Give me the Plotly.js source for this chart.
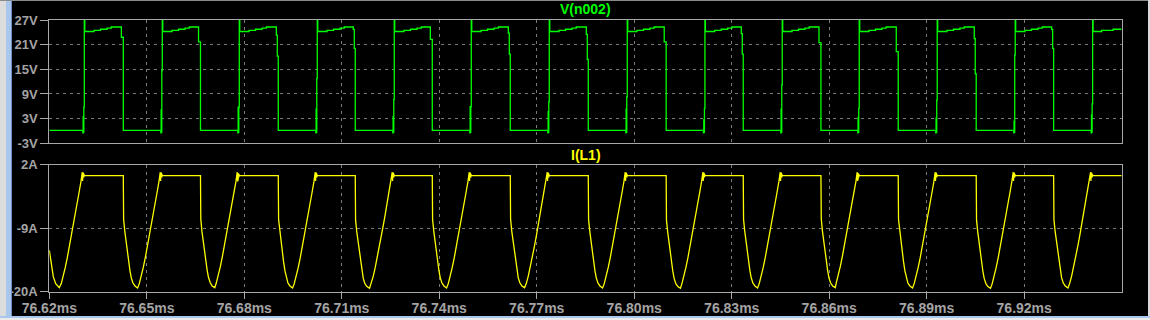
<!DOCTYPE html>
<html>
<head>
<meta charset="utf-8">
<script src="https://cdn.plot.ly/plotly-3.0.1.min.js"></script>
<style>
  html, body { margin: 0; padding: 0; background: #000; }
  #wrap { position: relative; width: 1150px; height: 320px; overflow: hidden; background: #000; }
  #chart { position: absolute; left: 0; top: 0; width: 1150px; height: 320px; }
  .deco { position: absolute; }
</style>
</head>
<body>
<div id="wrap">
  <div id="chart"></div>
  <div class="deco" style="left:0;top:0;width:6px;height:320px;background:#dcdcdc;"></div>
  <div class="deco" style="left:6px;top:0;width:5px;height:320px;background:#a9c6ec;"></div>
  <div class="deco" style="left:11px;top:0;width:1px;height:320px;background:#6d8fbf;"></div>
  <div class="deco" style="left:0;top:0;width:1150px;height:1px;background:#8a8a8a;"></div>
  <div class="deco" style="left:0;top:316px;width:1150px;height:2px;background:#a9c6ec;"></div>
  <div class="deco" style="left:0;top:318px;width:1150px;height:2px;background:#ececec;"></div>
  <div class="deco" style="left:1148px;top:0;width:2px;height:316px;background:#d8d8d8;"></div>
</div>
<script>
// ---- Data (time in microseconds after 76.62 ms) ----
const T0_MS = 76.62;

// Tick labels
const xTickVals = [76.62, 76.65, 76.68, 76.71, 76.74, 76.77, 76.80, 76.83, 76.86, 76.89, 76.92];
const xTickText = ["76.62ms","76.65ms","76.68ms","76.71ms","76.74ms","76.77ms","76.80ms","76.83ms","76.86ms","76.89ms","76.92ms"];
const vTickVals = [-3, 3, 9, 15, 21, 27];
const vTickText = ["-3V","3V","9V","15V","21V","27V"];
const iTickVals = [-20, -9, 2];
const iTickText = ["-20A","-9A","2A"];

// V(n002) in volts, step-held samples
const vTimeUs = [
  0.00,
  10.32, 10.42, 10.52, 10.62, 10.77, 10.92, 13.77, 15.77, 17.77, 19.07, 22.17, 22.47, 22.77,
  34.32, 34.42, 34.52, 34.62, 34.77, 34.92, 37.77, 39.77, 41.77, 43.07, 45.92, 46.22, 46.52,
  58.01, 58.11, 58.21, 58.31, 58.46, 58.61, 61.46, 63.46, 65.46, 66.76, 69.86, 70.16, 70.46,
  82.01, 82.11, 82.21, 82.31, 82.46, 82.61, 85.46, 87.46, 89.46, 90.76, 93.55, 93.85, 94.15,
  105.70, 105.80, 105.90, 106.00, 106.15, 106.30, 109.15, 111.15, 113.15, 114.45, 117.25, 117.55, 117.85,
  129.40, 129.50, 129.60, 129.70, 129.85, 130.00, 132.85, 134.85, 136.85, 138.15, 141.25, 141.55, 141.85,
  153.40, 153.50, 153.60, 153.70, 153.85, 154.00, 156.85, 158.85, 160.85, 162.15, 165.25, 165.55, 165.85,
  177.40, 177.50, 177.60, 177.70, 177.85, 178.00, 180.85, 182.85, 184.85, 186.15, 189.22, 189.52, 189.82,
  201.30, 201.40, 201.50, 201.60, 201.75, 201.90, 204.75, 206.75, 208.75, 210.05, 212.94, 213.24, 213.54,
  225.09, 225.19, 225.29, 225.39, 225.54, 225.69, 228.54, 230.54, 232.54, 233.84, 236.85, 237.15, 237.45,
  248.78, 248.88, 248.98, 249.08, 249.23, 249.38, 252.23, 254.23, 256.23, 257.53, 260.63, 260.93, 261.23,
  272.78, 272.88, 272.98, 273.08, 273.23, 273.38, 276.23, 278.23, 280.23, 281.53, 284.63, 284.93, 285.23,
  296.78, 296.88, 296.98, 297.08, 297.23, 297.38, 300.23, 302.23, 304.23, 305.53, 308.45, 308.75, 309.05,
  320.60, 320.70, 320.80, 320.90, 321.05, 321.20, 323.85, 327.35, 330.00
];
const vVolts = [
  0.16,
  -0.45, 3.5, -0.3, 5.8, 27, 24.2, 24.5, 24.75, 25.0, 25.3, 22.8, 22.8, 0.16,
  -0.45, 5.1, -0.3, 14.7, 27, 24.2, 24.5, 24.75, 25.0, 25.3, 21.7, 21.7, 0.16,
  -0.45, 5.8, -0.3, 5.8, 27, 24.2, 24.5, 24.75, 25.0, 25.3, 23.3, 18.2, 0.16,
  -0.45, 5.3, -0.3, 12.8, 27, 24.2, 24.5, 24.75, 25.0, 25.3, 24.7, 20.1, 0.16,
  -0.45, 3.5, -0.3, 7.7, 27, 24.2, 24.5, 24.75, 25.0, 25.3, 22.3, 22.3, 0.16,
  -0.45, 5.9, -0.3, 5.9, 27, 24.2, 24.5, 24.75, 25.0, 25.3, 23.8, 18.7, 0.16,
  -0.45, 4.7, -0.3, 7.1, 27, 24.2, 24.5, 24.75, 25.0, 25.3, 23.5, 17.4, 0.16,
  -0.45, 5.3, -0.3, 8.3, 27, 24.2, 24.5, 24.75, 25.0, 25.3, 21.7, 21.7, 0.16,
  -0.45, 2.7, -0.3, 5.5, 27, 24.2, 24.5, 24.75, 25.0, 25.3, 23.7, 18.7, 0.16,
  -0.45, 5.3, -0.3, 11.2, 27, 24.2, 24.5, 24.75, 25.0, 25.3, 21.5, 21.5, 0.16,
  -0.45, 3.3, -0.3, 5.5, 27, 24.2, 24.5, 24.75, 25.0, 25.3, 19.3, 19.3, 0.16,
  -0.45, 3.1, -0.3, 7.5, 27, 24.2, 24.5, 24.75, 25.0, 25.3, 22.5, 13.9, 0.16,
  -0.45, 2.3, -0.3, 18.5, 27, 24.2, 24.5, 24.75, 25.0, 25.3, 24.7, 20.1, 0.16,
  -0.45, 3.9, -0.3, 6.6, 27, 24.2, 24.5, 24.75, 24.75
];

// I(L1) in amperes
const iTimeUs = [
  /* start  */ 0.00, 0.74, 1.23, 1.97, 2.46, 3.08,
  /* up  1  */ 3.69, 4.31, 4.92, 5.54, 6.15, 6.77, 7.39, 8.00, 8.62, 9.23, 9.75, 10.15, 10.25, 10.34, 10.43, 10.52, 10.62, 10.71, 10.86,
  /* dn  1  */ 22.77, 22.87, 23.23, 23.60, 24.00, 24.40, 24.83, 25.23, 25.75, 26.37, 27.17,
  /* up  2  */ 27.69, 28.31, 28.92, 29.54, 30.15, 30.77, 31.39, 32.00, 32.62, 33.23, 33.75, 34.15, 34.25, 34.34, 34.43, 34.52, 34.62, 34.71, 34.86,
  /* dn  2  */ 46.52, 46.62, 46.98, 47.35, 47.75, 48.15, 48.58, 48.98, 49.50, 50.12, 50.92,
  /* up  3  */ 51.38, 52.00, 52.61, 53.23, 53.84, 54.46, 55.08, 55.69, 56.31, 56.92, 57.44, 57.84, 57.94, 58.03, 58.12, 58.21, 58.31, 58.40, 58.55,
  /* dn  3  */ 70.46, 70.56, 70.92, 71.29, 71.69, 72.09, 72.52, 72.92, 73.44, 74.06, 74.86,
  /* up  4  */ 75.38, 76.00, 76.61, 77.23, 77.84, 78.46, 79.08, 79.69, 80.31, 80.92, 81.44, 81.84, 81.94, 82.03, 82.12, 82.21, 82.31, 82.40, 82.55,
  /* dn  4  */ 94.15, 94.25, 94.61, 94.98, 95.38, 95.78, 96.21, 96.61, 97.13, 97.75, 98.55,
  /* up  5  */ 99.07, 99.69, 100.30, 100.92, 101.53, 102.15, 102.77, 103.38, 104.00, 104.61, 105.13, 105.53, 105.63, 105.72, 105.81, 105.90, 106.00, 106.09, 106.24,
  /* dn  5  */ 117.85, 117.95, 118.31, 118.68, 119.08, 119.48, 119.91, 120.31, 120.83, 121.45, 122.25,
  /* up  6  */ 122.77, 123.39, 124.00, 124.62, 125.23, 125.85, 126.47, 127.08, 127.70, 128.31, 128.83, 129.23, 129.33, 129.42, 129.51, 129.60, 129.70, 129.79, 129.94,
  /* dn  6  */ 141.85, 141.95, 142.31, 142.68, 143.08, 143.48, 143.91, 144.31, 144.83, 145.45, 146.25,
  /* up  7  */ 146.77, 147.39, 148.00, 148.62, 149.23, 149.85, 150.47, 151.08, 151.70, 152.31, 152.83, 153.23, 153.33, 153.42, 153.51, 153.60, 153.70, 153.79, 153.94,
  /* dn  7  */ 165.85, 165.95, 166.31, 166.68, 167.08, 167.48, 167.91, 168.31, 168.83, 169.45, 170.25,
  /* up  8  */ 170.77, 171.39, 172.00, 172.62, 173.23, 173.85, 174.47, 175.08, 175.70, 176.31, 176.83, 177.23, 177.33, 177.42, 177.51, 177.60, 177.70, 177.79, 177.94,
  /* dn  8  */ 189.82, 189.92, 190.28, 190.65, 191.05, 191.45, 191.88, 192.28, 192.80, 193.42, 194.22,
  /* up  9  */ 194.67, 195.29, 195.90, 196.52, 197.13, 197.75, 198.37, 198.98, 199.60, 200.21, 200.73, 201.13, 201.23, 201.32, 201.41, 201.50, 201.60, 201.69, 201.84,
  /* dn  9  */ 213.54, 213.64, 214.00, 214.37, 214.77, 215.17, 215.60, 216.00, 216.52, 217.14, 217.94,
  /* up 10  */ 218.46, 219.08, 219.69, 220.31, 220.92, 221.54, 222.16, 222.77, 223.39, 224.00, 224.52, 224.92, 225.02, 225.11, 225.20, 225.29, 225.39, 225.48, 225.63,
  /* dn 10  */ 237.45, 237.55, 237.91, 238.28, 238.68, 239.08, 239.51, 239.91, 240.43, 241.05, 241.85,
  /* up 11  */ 242.15, 242.77, 243.38, 244.00, 244.61, 245.23, 245.85, 246.46, 247.08, 247.69, 248.21, 248.61, 248.71, 248.80, 248.89, 248.98, 249.08, 249.17, 249.32,
  /* dn 11  */ 261.23, 261.33, 261.69, 262.06, 262.46, 262.86, 263.29, 263.69, 264.21, 264.83, 265.63,
  /* up 12  */ 266.15, 266.77, 267.38, 268.00, 268.61, 269.23, 269.85, 270.46, 271.08, 271.69, 272.21, 272.61, 272.71, 272.80, 272.89, 272.98, 273.08, 273.17, 273.32,
  /* dn 12  */ 285.23, 285.33, 285.69, 286.06, 286.46, 286.86, 287.29, 287.69, 288.21, 288.83, 289.63,
  /* up 13  */ 290.15, 290.77, 291.38, 292.00, 292.61, 293.23, 293.85, 294.46, 295.08, 295.69, 296.21, 296.61, 296.71, 296.80, 296.89, 296.98, 297.08, 297.17, 297.32,
  /* dn 13  */ 309.05, 309.15, 309.51, 309.88, 310.28, 310.68, 311.11, 311.51, 312.03, 312.65, 313.45,
  /* up 14  */ 313.97, 314.59, 315.20, 315.82, 316.43, 317.05, 317.67, 318.28, 318.90, 319.51, 320.03, 320.43, 320.53, 320.62, 320.71, 320.80, 320.90, 320.99, 321.14,
  /* end    */ 330.00
];
const iAmps = [
  /* start  */ -12.8, -15.7, -17.4, -18.6, -19.0, -19.3,
  /* up  1  */ -18.6, -17.3, -15.8, -14.1, -12.3, -10.4, -8.5, -6.6, -4.6, -2.6, -0.9, 0.7, -0.8, 0.6, -0.5, 0.5, -0.2, 0.3, 0.1,
  /* dn  1  */ 0.1, -7.5, -9.5, -11.2, -13.0, -14.8, -16.4, -17.6, -18.5, -19.0, -19.35,
  /* up  2  */ -18.6, -17.3, -15.8, -14.1, -12.3, -10.4, -8.5, -6.6, -4.6, -2.6, -0.9, 0.7, -0.8, 0.6, -0.5, 0.5, -0.2, 0.3, 0.1,
  /* dn  2  */ 0.1, -7.4, -9.6, -11.3, -13.1, -14.8, -16.3, -17.5, -18.4, -19.0, -19.3,
  /* up  3  */ -18.5, -17.2, -15.7, -14.0, -12.2, -10.3, -8.4, -6.5, -4.5, -2.6, -0.9, 0.7, -0.9, 0.6, -0.5, 0.5, -0.2, 0.3, 0.1,
  /* dn  3  */ 0.1, -7.5, -9.5, -11.2, -13.0, -14.8, -16.4, -17.6, -18.5, -19.0, -19.35,
  /* up  4  */ -18.6, -17.3, -15.8, -14.1, -12.3, -10.4, -8.5, -6.6, -4.6, -2.6, -0.9, 0.7, -0.8, 0.6, -0.5, 0.5, -0.2, 0.3, 0.1,
  /* dn  4  */ 0.1, -7.6, -9.6, -11.3, -13.1, -14.9, -16.5, -17.7, -18.6, -19.1, -19.4,
  /* up  5  */ -18.6, -17.3, -15.8, -14.1, -12.3, -10.4, -8.5, -6.6, -4.6, -2.6, -0.9, 0.7, -0.8, 0.6, -0.5, 0.5, -0.2, 0.3, 0.1,
  /* dn  5  */ 0.1, -7.5, -9.5, -11.2, -13.0, -14.8, -16.4, -17.6, -18.5, -19.0, -19.35,
  /* up  6  */ -18.6, -17.3, -15.8, -14.1, -12.3, -10.4, -8.5, -6.6, -4.6, -2.6, -0.9, 0.7, -0.8, 0.6, -0.5, 0.5, -0.2, 0.3, 0.1,
  /* dn  6  */ 0.1, -7.4, -9.5, -11.2, -13.0, -14.7, -16.3, -17.6, -18.5, -19.0, -19.3,
  /* up  7  */ -18.6, -17.3, -15.8, -14.1, -12.3, -10.4, -8.5, -6.6, -4.6, -2.6, -0.9, 0.7, -0.8, 0.6, -0.5, 0.5, -0.2, 0.3, 0.1,
  /* dn  7  */ 0.1, -7.5, -9.5, -11.2, -13.0, -14.8, -16.4, -17.6, -18.5, -19.0, -19.35,
  /* up  8  */ -18.6, -17.3, -15.8, -14.1, -12.3, -10.4, -8.5, -6.6, -4.6, -2.6, -0.9, 0.7, -0.8, 0.6, -0.5, 0.5, -0.2, 0.3, 0.1,
  /* dn  8  */ 0.1, -7.6, -9.6, -11.3, -13.1, -14.9, -16.5, -17.7, -18.6, -19.1, -19.4,
  /* up  9  */ -18.6, -17.3, -15.8, -14.1, -12.3, -10.4, -8.5, -6.6, -4.6, -2.6, -0.9, 0.7, -0.8, 0.6, -0.5, 0.5, -0.2, 0.3, 0.1,
  /* dn  9  */ 0.1, -7.5, -9.5, -11.2, -13.0, -14.8, -16.4, -17.6, -18.5, -19.0, -19.35,
  /* up 10  */ -18.6, -17.3, -15.8, -14.1, -12.3, -10.4, -8.5, -6.6, -4.6, -2.6, -0.9, 0.7, -0.8, 0.6, -0.5, 0.5, -0.2, 0.3, 0.1,
  /* dn 10  */ 0.1, -7.4, -9.5, -11.2, -13.0, -14.7, -16.3, -17.6, -18.5, -19.0, -19.3,
  /* up 11  */ -18.5, -17.2, -15.7, -14.0, -12.2, -10.3, -8.4, -6.5, -4.5, -2.6, -0.9, 0.7, -0.8, 0.6, -0.5, 0.5, -0.2, 0.3, 0.1,
  /* dn 11  */ 0.1, -7.5, -9.5, -11.2, -13.0, -14.8, -16.4, -17.6, -18.5, -19.0, -19.35,
  /* up 12  */ -18.6, -17.3, -15.8, -14.1, -12.3, -10.4, -8.5, -6.6, -4.6, -2.6, -0.9, 0.7, -0.8, 0.6, -0.5, 0.5, -0.2, 0.3, 0.1,
  /* dn 12  */ 0.1, -7.6, -9.6, -11.3, -13.1, -14.9, -16.5, -17.7, -18.6, -19.1, -19.4,
  /* up 13  */ -18.6, -17.3, -15.8, -14.1, -12.3, -10.4, -8.5, -6.6, -4.6, -2.6, -0.9, 0.7, -0.8, 0.6, -0.5, 0.5, -0.2, 0.3, 0.1,
  /* dn 13  */ 0.1, -7.5, -9.5, -11.2, -13.0, -14.8, -16.4, -17.6, -18.5, -19.0, -19.35,
  /* up 14  */ -18.6, -17.3, -15.8, -14.1, -12.3, -10.4, -8.5, -6.6, -4.6, -2.6, -0.9, 0.7, -0.8, 0.6, -0.5, 0.5, -0.2, 0.3, 0.1,
  /* end    */ 0.1
];

const usToMs = t => T0_MS + t / 1000;

// ---- Styling ----
const FRAME = '#a8a8a8';
const GRID = '#7a7a7a';
const LABEL = '#a4a4a4';
const FONT = 'Liberation Sans, Arial, sans-serif';
const W = 1150, H = 320;
const xDom = [49.3 / W, 1121.7 / W];
const yTopDom = [1 - 143.3 / H, 1 - 20 / H];
const yBotDom = [1 - 291.7 / H, 1 - 164.7 / H];

const xTickFont = { family: FONT, size: 14, color: LABEL, weight: 'bold' };
const yTickFont = { family: FONT, size: 13, color: LABEL, weight: 'bold' };

const traces = [
  {
    x: vTimeUs.map(usToMs), y: vVolts, xaxis: 'x', yaxis: 'y',
    type: 'scatter', mode: 'lines', line: { color: '#00ff00', width: 1.3, shape: 'hv' },
    hoverinfo: 'skip', showlegend: false
  },
  {
    x: iTimeUs.map(usToMs), y: iAmps, xaxis: 'x2', yaxis: 'y2',
    type: 'scatter', mode: 'lines', line: { color: '#ffff00', width: 1.3, shape: 'linear' },
    hoverinfo: 'skip', showlegend: false
  }
];

const commonX = {
  domain: xDom, range: [76.62, 76.95], tickmode: 'array', tickvals: xTickVals, ticktext: xTickText,
  showgrid: true, gridcolor: GRID, griddash: '3px,4px', gridwidth: 1,
  showline: true, mirror: true, linecolor: FRAME, linewidth: 1, zeroline: false,
  tickfont: xTickFont, fixedrange: true
};
const commonY = {
  tickmode: 'array', showgrid: true, gridcolor: GRID, griddash: '3px,4px', gridwidth: 1,
  showline: true, mirror: true, linecolor: FRAME, linewidth: 1, zeroline: false,
  ticks: 'outside', ticklen: 8, tickcolor: FRAME, tickwidth: 1,
  tickfont: yTickFont, fixedrange: true
};

const layout = {
  width: W, height: H,
  margin: { l: 0, r: 0, t: 0, b: 0, pad: 0 },
  paper_bgcolor: '#000', plot_bgcolor: '#000',
  showlegend: false,
  xaxis: Object.assign({}, commonX, { anchor: 'y', showticklabels: false, ticks: '' }),
  xaxis2: Object.assign({}, commonX, { anchor: 'y2', matches: 'x', showticklabels: true, ticks: 'outside', ticklen: 6, tickcolor: FRAME, ticklabelstandoff: -3 }),
  yaxis: Object.assign({}, commonY, { domain: yTopDom, range: [-3, 27], tickvals: vTickVals, ticktext: vTickText, anchor: 'x' }),
  yaxis2: Object.assign({}, commonY, { domain: yBotDom, range: [-20, 2], tickvals: iTickVals, ticktext: iTickText, anchor: 'x2' }),
  annotations: [
    { text: 'V(n002)', xref: 'paper', yref: 'paper', x: (xDom[0] + xDom[1]) / 2, y: 1 - 9 / H,
      xanchor: 'center', yanchor: 'middle', showarrow: false,
      font: { family: FONT, size: 14, color: '#00ff00', weight: 'bold' } },
    { text: 'I(L1)', xref: 'paper', yref: 'paper', x: (xDom[0] + xDom[1]) / 2, y: 1 - 155 / H,
      xanchor: 'center', yanchor: 'middle', showarrow: false,
      font: { family: FONT, size: 14, color: '#ffff00', weight: 'bold' } }
  ]
};

Plotly.newPlot('chart', traces, layout, { staticPlot: true, displayModeBar: false });
</script>
</body>
</html>
